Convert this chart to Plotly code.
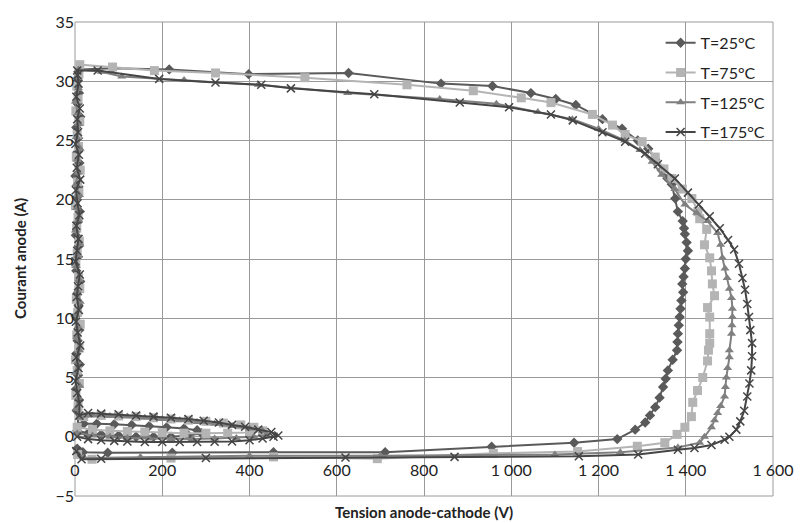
import plotly.graph_objects as go

names = ["T=25°C", "T=75°C", "T=125°C", "T=175°C"]

# ---- T=25°C (diamonds) ----
v25 = [5, 30, 60, 100, 140, 180, 220, 260, 290, 280, 250, 210, 170, 130, 90, 50, 20, 8,
       4, 9, 2, 7, 11, 3, 6, 10, 1, 8, 5, 12, 3, 7, 9, 2, 6, 11, 4, 8, 1, 10, 5, 7, 3, 12, 6, 9, 5,
       12, 86, 216, 398, 627, 839, 957, 1045, 1102, 1148, 1209, 1254, 1290, 1314, 1330, 1345,
       1358, 1368, 1376, 1382, 1393, 1396, 1398, 1402, 1405, 1400, 1398, 1395, 1392, 1394,
       1390, 1388, 1386, 1384, 1382, 1381, 1380, 1370, 1359, 1354, 1348, 1340, 1330, 1318,
       1307, 1284, 1243, 1144, 955, 711, 455, 223, 75, 18, 5]
i25 = [0.5, 0.3, 0.2, 0.1, 0.0, 0.0, 0.0, 0.1, 0.3, 0.55, 0.7, 0.8, 0.9, 1.0, 1.05, 1.1, 1.1, 0.9,
       2.2, 3.1, 4.0, 5.2, 6.1, 7.0, 8.1, 9.0, 10.2, 11.1, 12.0, 13.1, 14.0, 15.2, 16.1, 17.0, 18.1, 19.0, 20.2, 21.1, 22.0, 23.1, 24.0, 25.2, 26.1, 27.0, 28.1, 29.0, 30.0,
       31.0, 31.1, 31.0, 30.6, 30.7, 29.8, 29.6, 29.0, 28.5, 28.0, 26.8, 26.0, 25.0, 24.3, 23.4, 22.5,
       21.8, 21.3, 20.1, 19.0, 18.2, 17.6, 17.1, 16.4, 15.7, 15.0, 14.2, 13.5, 12.9, 12.2,
       11.5, 10.8, 10.1, 9.4, 8.7, 8.0, 7.3, 6.5, 5.6, 4.9, 4.2, 3.3, 2.5, 1.8,
       1.2, 0.6, -0.2, -0.5, -0.85, -1.3, -1.3, -1.35, -1.35, -1.3, -1.0]

# ---- T=75°C (squares) ----
v75 = [5, 40, 80, 120, 160, 200, 250, 300, 350, 400, 430, 410, 380, 340, 300, 260, 220, 180, 140, 100, 60, 20,
       7, 2, 10, 5, 1, 9, 4, 12, 6, 3, 11, 8, 2, 5, 10, 4, 7, 1, 9, 6, 12, 3, 8, 5, 11, 2, 7, 4, 9,
       11, 86, 182, 322, 527, 761, 913, 1023, 1091, 1186, 1232, 1261, 1300, 1330, 1350, 1368,
       1392, 1414, 1428, 1432, 1448, 1443, 1455, 1459, 1461, 1466, 1450, 1455, 1455, 1455,
       1452, 1450, 1439, 1427, 1416, 1413, 1398, 1380, 1352, 1289, 1152, 959, 693, 455, 220, 39, 6]
i75 = [0.8, 0.6, 0.5, 0.45, 0.4, 0.35, 0.3, 0.3, 0.3, 0.35, 0.5, 0.8, 1.0, 1.15, 1.3, 1.4, 1.5, 1.6, 1.7, 1.75, 1.8, 1.7,
       2.6, 3.5, 4.5, 5.6, 6.5, 7.5, 8.6, 9.5, 10.5, 11.6, 12.5, 13.5, 14.6, 15.5, 16.5, 17.6, 18.5, 19.5, 20.6, 21.5, 22.5, 23.6, 24.5, 25.5, 26.6, 27.5, 28.5, 29.6, 30.6,
       31.4, 31.2, 30.9, 30.7, 30.3, 29.7, 29.2, 28.6, 28.2, 27.2, 26.3, 25.5, 24.9, 23.6, 22.6, 21.8,
       20.9, 20.1, 19.0, 18.4, 17.5, 16.2, 15.1, 14.0, 12.9, 11.9, 10.9, 10.1, 8.7, 7.9,
       7.3, 6.4, 5.0, 3.9, 2.9, 1.7, 0.8, 0.2, -0.5, -0.8, -1.25, -1.4, -1.85, -1.7, -1.8, -1.9, -1.5]

# ---- T=125°C (triangles) ----
v125 = [5, 40, 80, 120, 170, 220, 270, 320, 370, 410, 440, 430, 400, 360, 320, 280, 240, 200, 160, 120, 80, 40, 10,
        3, 8, 11, 1, 6, 10, 4, 7, 2, 12, 5, 9, 3, 6, 11, 1, 8, 4, 10, 2, 7, 5, 12, 3, 9, 6, 1, 8, 4,
        8, 60, 107, 250, 420, 625, 836, 966, 1061, 1140, 1200, 1260, 1295, 1323, 1345, 1375,
        1398, 1425, 1450, 1473, 1480, 1484, 1490, 1495, 1500, 1505, 1507, 1507, 1506, 1505,
        1500, 1500, 1496, 1493, 1491, 1489, 1480, 1473, 1466, 1459, 1443, 1432, 1382, 1250,
        1100, 700, 400, 150, 20, 4]
i125 = [0.3, 0.1, 0.0, -0.1, -0.15, -0.2, -0.2, -0.15, -0.1, 0.0, 0.15, 0.5, 0.7, 0.9, 1.1, 1.25, 1.4, 1.5, 1.6, 1.7, 1.75, 1.8, 1.6,
        2.4, 3.3, 4.3, 5.4, 6.3, 7.3, 8.4, 9.3, 10.3, 11.4, 12.3, 13.3, 14.4, 15.3, 16.3, 17.4, 18.3, 19.3, 20.4, 21.3, 22.3, 23.4, 24.3, 25.3, 26.4, 27.3, 28.3, 29.4, 30.4,
        31.0, 30.8, 30.4, 30.1, 29.7, 29.0, 28.5, 28.1, 27.4, 26.8, 26.0, 25.0, 24.2, 23.2, 22.1, 20.9,
        19.6, 18.9, 18.2, 17.2, 16.2, 15.1, 14.2, 13.4, 12.5, 11.7, 10.8, 10.1, 9.4, 8.7,
        7.3, 6.7, 5.8, 5.0, 4.2, 3.4, 2.6, 2.0, 1.4, 0.8, 0.0, -0.5, -0.9, -1.3,
        -1.5, -1.6, -1.6, -1.7, -1.8, -1.3]

# ---- T=175°C (crosses) ----
v175 = [5, 30, 60, 90, 120, 160, 200, 240, 280, 320, 360, 400, 430, 455, 466, 450, 420, 390, 360, 330, 295, 260, 220, 180, 140, 100, 60, 30, 10,
        10, 5, 1, 8, 3, 12, 6, 2, 9, 4, 7, 11, 1, 5, 8, 3, 10, 6, 2, 12, 4, 9, 1, 7, 5, 11, 3, 8, 6,
        5, 52, 193, 322, 427, 495, 686, 882, 995, 1091, 1141, 1209, 1261, 1307, 1336, 1375,
        1405, 1430, 1455, 1478, 1497, 1511, 1522, 1530, 1536, 1541, 1545, 1548, 1552, 1552,
        1550, 1546, 1541, 1534, 1525, 1516, 1500, 1489, 1459, 1420, 1382, 1291, 1155, 870,
        620, 300, 60, 15, 3]
i175 = [0.0, -0.2, -0.3, -0.35, -0.4, -0.45, -0.45, -0.45, -0.45, -0.42, -0.4, -0.3, -0.15, 0.0, 0.1, 0.4, 0.6, 0.85, 1.0, 1.2, 1.35, 1.5, 1.6, 1.7, 1.8, 1.9, 1.95, 2.0, 1.8,
        2.8, 3.7, 4.7, 5.8, 6.7, 7.7, 8.8, 9.7, 10.7, 11.8, 12.7, 13.7, 14.8, 15.7, 16.7, 17.8, 18.7, 19.7, 20.8, 21.7, 22.7, 23.8, 24.7, 25.7, 26.8, 27.7, 28.7, 29.8, 30.5,
        30.9, 30.9, 30.2, 29.9, 29.7, 29.4, 28.9, 28.2, 27.8, 27.2, 26.7, 25.7, 24.9, 23.9, 23.0, 21.8,
        20.6, 19.6, 18.6, 17.6, 16.6, 15.8, 14.6, 13.4, 12.4, 11.2, 10.1, 9.0, 7.9, 6.8,
        5.6, 4.5, 3.4, 2.2, 1.3, 0.6, 0.0, -0.25, -0.7, -0.95, -1.1, -1.5, -1.65, -1.7,
        -1.75, -1.8, -1.85, -1.9, -1.2]

x_ticks = [0, 200, 400, 600, 800, 1000, 1200, 1400, 1600]
y_ticks = [-5, 0, 5, 10, 15, 20, 25, 30, 35]

colors = ["#5a5a5a", "#b4b4b4", "#808080", "#454545"]
symbols = ["diamond", "square", "triangle-up", "x-thin"]
sizes = [8, 9, 8, 8]
xs = [v25, v75, v125, v175]
ys = [i25, i75, i125, i175]

FONT = "Lato, 'Open Sans', sans-serif"

fig = go.Figure()
for k in range(4):
    mk = dict(symbol=symbols[k], size=sizes[k], color=colors[k])
    if symbols[k] == "x-thin":
        mk["line"] = dict(color=colors[k], width=1.5)
    fig.add_trace(go.Scatter(
        x=xs[k], y=ys[k], mode="lines+markers", name=names[k],
        line=dict(color=colors[k], width=2), marker=mk,
        legendgroup=names[k], cliponaxis=False,
    ))

grid = "#9a9a9a"
fig.update_layout(
    width=806, height=523,
    margin=dict(l=75, r=26, t=18, b=27),
    paper_bgcolor="white", plot_bgcolor="white",
    separators=", ",
    font=dict(family=FONT, size=16, color="#222"),
    showlegend=True,
    legend=dict(x=0.839, y=0.992, xanchor="left", yanchor="top",
                bgcolor="rgba(0,0,0,0)", font=dict(size=16, color="#222"),
                tracegroupgap=6, itemwidth=30),
    xaxis=dict(range=[0, 1600], tickvals=x_ticks, separatethousands=True,
               showgrid=True, gridcolor=grid, gridwidth=1, zeroline=False,
               showline=False, anchor="free", position=0.125,
               ticks="", ticklabelstandoff=22, tickfont=dict(size=16)),
    yaxis=dict(range=[-5, 35], tickvals=y_ticks, showgrid=True, gridcolor=grid,
               gridwidth=1, zeroline=True, zerolinecolor=grid, zerolinewidth=1,
               showline=False, ticks="", tickfont=dict(size=16)),
)
fig.add_shape(type="rect", xref="paper", yref="paper", x0=0, y0=0, x1=1, y1=1,
              line=dict(color=grid, width=1), layer="below")
fig.add_annotation(text="<b>Tension anode-cathode (V)</b>", xref="paper", yref="paper",
                   x=0.5, y=0, yshift=-16, yanchor="middle", showarrow=False,
                   font=dict(size=15, color="#222"))
fig.add_annotation(text="<b>Courant anode (A)</b>", xref="paper", yref="paper",
                   x=0, xshift=-55, xanchor="center", y=0.5, yanchor="middle",
                   textangle=-90, showarrow=False, font=dict(size=15, color="#222"))

fig.write_html("out.html")
